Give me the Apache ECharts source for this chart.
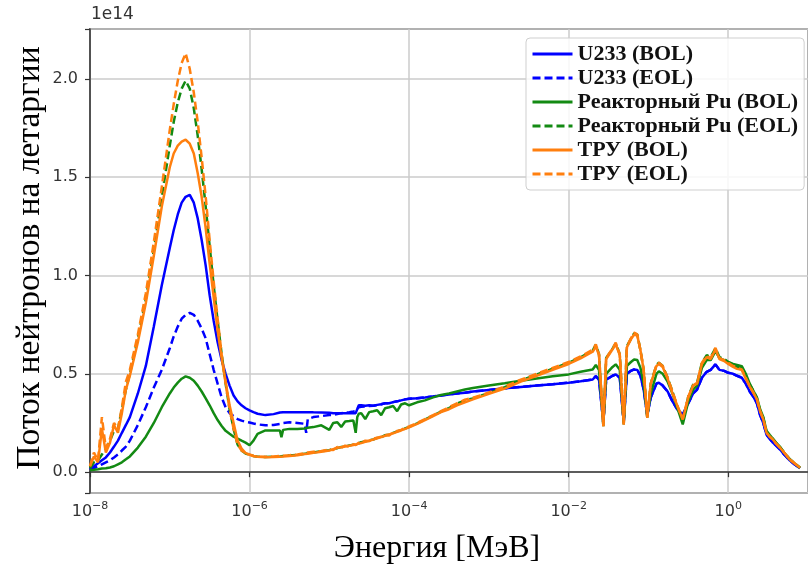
<!DOCTYPE html>
<html><head><meta charset="utf-8">
<script src="https://cdn.jsdelivr.net/npm/echarts@6/dist/echarts.min.js"></script>
<style>html,body{margin:0;padding:0;background:#fff}#c{width:808px;height:569px}</style>
</head><body><div id="c"></div>
<script>
// Energy grid, MeV
const energy = [
 1.00e-8,1.12e-8,1.26e-8,1.41e-8,1.58e-8,1.78e-8,2.00e-8,2.24e-8,2.51e-8,2.82e-8,
 3.16e-8,3.98e-8,5.01e-8,6.31e-8,7.94e-8,1.00e-7,1.12e-7,1.26e-7,1.41e-7,1.58e-7,
 1.78e-7,2.00e-7,2.24e-7,2.51e-7,2.82e-7,3.16e-7,3.55e-7,3.98e-7,4.47e-7,5.01e-7,
 5.62e-7,6.31e-7,7.08e-7,7.94e-7,8.91e-7,1.00e-6,1.12e-6,1.26e-6,1.58e-6,2.00e-6,
 2.40e-6,2.51e-6,2.63e-6,3.16e-6,3.98e-6,4.90e-6,5.13e-6,5.37e-6,6.31e-6,7.94e-6,
 1.00e-5,1.12e-5,1.26e-5,1.41e-5,1.58e-5,1.78e-5,2.00e-5,2.14e-5,2.24e-5,2.34e-5,
 2.51e-5,2.82e-5,3.16e-5,3.55e-5,3.98e-5,4.47e-5,5.01e-5,5.62e-5,6.31e-5,7.08e-5,
 7.94e-5,8.91e-5,1.00e-4,1.26e-4,1.58e-4,2.00e-4,2.51e-4,3.16e-4,3.98e-4,5.01e-4,
 6.31e-4,1.00e-3,1.58e-3,2.51e-3,3.98e-3,6.31e-3,1.00e-2,1.41e-2,2.00e-2,2.19e-2,
 2.40e-2,2.72e-2,2.95e-2,3.55e-2,3.89e-2,4.37e-2,4.90e-2,5.37e-2,6.03e-2,6.61e-2,
 7.24e-2,7.94e-2,8.71e-2,9.66e-2,1.07e-1,1.26e-1,1.35e-1,1.51e-1,1.74e-1,2.00e-1,
 2.29e-1,2.69e-1,3.16e-1,3.63e-1,4.07e-1,4.68e-1,5.37e-1,6.03e-1,6.92e-1,7.76e-1,
 8.91e-1,1.00,1.15,1.29,1.48,1.66,1.86,2.09,2.29,2.51,
 2.75,3.02,3.31,3.63,3.98,4.47,5.01,5.89,6.76,7.94
];
// Flux per lethargy, units of 1e14
const u233Bol = [
 0.015,0.03,0.045,0.06,0.075,0.10,0.13,0.16,0.20,0.24,
 0.28,0.40,0.54,0.74,0.95,1.14,1.23,1.31,1.37,1.40,
 1.41,1.37,1.29,1.18,1.05,0.90,0.77,0.66,0.57,0.50,
 0.44,0.39,0.36,0.34,0.325,0.314,0.305,0.297,0.29,0.295,
 0.303,0.305,0.305,0.305,0.305,0.305,0.305,0.305,0.304,0.303,
 0.302,0.30,0.30,0.30,0.30,0.30,0.30,0.30,0.30,0.34,
 0.34,0.338,0.34,0.338,0.342,0.345,0.35,0.35,0.356,0.36,
 0.365,0.37,0.373,0.376,0.38,0.385,0.39,0.395,0.40,0.404,
 0.41,0.418,0.426,0.433,0.44,0.447,0.455,0.462,0.471,0.488,
 0.47,0.25,0.47,0.49,0.497,0.48,0.255,0.50,0.515,0.522,
 0.52,0.49,0.42,0.29,0.38,0.45,0.455,0.44,0.41,0.36,
 0.32,0.293,0.35,0.40,0.42,0.48,0.51,0.52,0.548,0.52,
 0.515,0.505,0.50,0.49,0.48,0.45,0.41,0.38,0.35,0.29,
 0.25,0.19,0.17,0.15,0.135,0.115,0.09,0.06,0.04,0.02
];
const u233Eol = [
 0.01,0.02,0.03,0.04,0.05,0.06,0.075,0.09,0.11,0.13,
 0.16,0.24,0.33,0.43,0.52,0.63,0.69,0.74,0.78,0.80,
 0.81,0.80,0.77,0.73,0.68,0.60,0.52,0.45,0.38,0.33,
 0.30,0.285,0.27,0.262,0.256,0.252,0.247,0.243,0.238,0.24,
 0.245,0.248,0.25,0.254,0.25,0.246,0.20,0.27,0.28,0.285,
 0.29,0.292,0.295,0.30,0.302,0.305,0.308,0.31,0.31,0.33,
 0.332,0.334,0.336,0.338,0.34,0.345,0.35,0.35,0.356,0.36,
 0.365,0.37,0.373,0.376,0.38,0.385,0.39,0.395,0.40,0.404,
 0.41,0.418,0.426,0.433,0.44,0.447,0.455,0.462,0.471,0.488,
 0.47,0.25,0.47,0.49,0.497,0.48,0.255,0.50,0.515,0.522,
 0.52,0.49,0.42,0.29,0.38,0.45,0.455,0.44,0.41,0.36,
 0.32,0.293,0.35,0.40,0.42,0.48,0.51,0.52,0.548,0.52,
 0.515,0.505,0.50,0.49,0.48,0.45,0.41,0.38,0.35,0.29,
 0.25,0.19,0.17,0.15,0.135,0.115,0.09,0.06,0.04,0.02
];
const puBol = [
 0.01,0.012,0.015,0.018,0.02,0.024,0.03,0.04,0.05,0.065,
 0.08,0.125,0.18,0.25,0.33,0.40,0.43,0.455,0.475,0.487,
 0.48,0.465,0.44,0.41,0.375,0.34,0.30,0.265,0.235,0.21,
 0.195,0.18,0.17,0.16,0.15,0.137,0.16,0.195,0.212,0.212,
 0.212,0.178,0.215,0.22,0.22,0.222,0.225,0.226,0.229,0.238,
 0.215,0.25,0.254,0.23,0.258,0.26,0.263,0.20,0.28,0.297,
 0.30,0.27,0.305,0.31,0.315,0.29,0.325,0.33,0.336,0.31,
 0.344,0.35,0.34,0.355,0.365,0.38,0.392,0.40,0.41,0.42,
 0.428,0.44,0.452,0.465,0.476,0.487,0.497,0.51,0.522,0.545,
 0.52,0.245,0.50,0.535,0.548,0.52,0.25,0.54,0.56,0.573,
 0.57,0.53,0.45,0.285,0.40,0.50,0.513,0.50,0.46,0.40,
 0.33,0.243,0.36,0.42,0.44,0.53,0.57,0.57,0.615,0.58,
 0.57,0.56,0.55,0.545,0.539,0.50,0.45,0.41,0.38,0.32,
 0.28,0.21,0.19,0.17,0.15,0.128,0.10,0.067,0.046,0.022
];
const puEol = [
 0.02,0.05,0.06,0.09,0.12,0.16,0.21,0.22,0.32,0.42,
 0.50,0.68,0.88,1.13,1.40,1.66,1.78,1.88,1.95,1.99,
 1.95,1.85,1.71,1.54,1.35,1.15,0.95,0.77,0.60,0.45,
 0.32,0.22,0.14,0.11,0.095,0.088,0.082,0.078,0.077,0.078,
 0.08,0.079,0.082,0.085,0.088,0.093,0.095,0.097,0.10,0.106,
 0.112,0.118,0.122,0.128,0.13,0.136,0.14,0.142,0.144,0.147,
 0.152,0.156,0.162,0.166,0.174,0.178,0.188,0.19,0.20,0.207,
 0.214,0.222,0.23,0.248,0.268,0.288,0.308,0.326,0.348,0.365,
 0.375,0.402,0.432,0.466,0.496,0.526,0.556,0.584,0.618,0.648,
 0.60,0.234,0.58,0.628,0.655,0.60,0.243,0.64,0.678,0.705,
 0.70,0.62,0.52,0.277,0.45,0.545,0.556,0.54,0.48,0.41,
 0.335,0.26,0.385,0.445,0.455,0.556,0.595,0.585,0.63,0.585,
 0.575,0.56,0.545,0.535,0.53,0.49,0.445,0.41,0.375,0.315,
 0.275,0.205,0.185,0.17,0.148,0.127,0.10,0.066,0.046,0.022
];
const truBol = [
 0.03,0.08,0.05,0.22,0.10,0.15,0.24,0.20,0.30,0.42,
 0.49,0.66,0.86,1.10,1.35,1.55,1.62,1.66,1.68,1.69,
 1.67,1.62,1.52,1.40,1.24,1.06,0.89,0.72,0.58,0.46,
 0.34,0.25,0.16,0.12,0.097,0.09,0.082,0.078,0.076,0.077,
 0.078,0.078,0.079,0.082,0.086,0.092,0.093,0.094,0.098,0.104,
 0.11,0.117,0.124,0.127,0.13,0.134,0.138,0.141,0.143,0.145,
 0.148,0.154,0.16,0.166,0.172,0.178,0.185,0.192,0.198,0.205,
 0.212,0.22,0.228,0.245,0.265,0.285,0.305,0.32,0.34,0.355,
 0.37,0.398,0.425,0.46,0.49,0.52,0.55,0.578,0.612,0.64,
 0.595,0.234,0.575,0.625,0.65,0.595,0.243,0.635,0.675,0.70,
 0.695,0.62,0.52,0.277,0.45,0.54,0.55,0.535,0.475,0.40,
 0.34,0.268,0.38,0.44,0.45,0.55,0.585,0.575,0.625,0.575,
 0.565,0.55,0.535,0.525,0.52,0.475,0.435,0.40,0.37,0.31,
 0.268,0.20,0.18,0.166,0.145,0.124,0.10,0.065,0.045,0.022
];
const truEol = [
 0.03,0.10,0.06,0.28,0.12,0.17,0.25,0.22,0.33,0.46,
 0.52,0.70,0.91,1.17,1.45,1.74,1.87,1.99,2.08,2.13,
 2.05,1.93,1.78,1.60,1.40,1.18,0.97,0.78,0.60,0.45,
 0.32,0.22,0.14,0.11,0.095,0.088,0.082,0.078,0.078,0.08,
 0.082,0.08,0.084,0.086,0.09,0.096,0.092,0.10,0.104,0.108,
 0.115,0.112,0.128,0.124,0.135,0.13,0.142,0.138,0.146,0.15,
 0.15,0.16,0.158,0.17,0.175,0.18,0.19,0.186,0.202,0.21,
 0.215,0.226,0.232,0.25,0.27,0.29,0.31,0.33,0.35,0.368,
 0.378,0.405,0.435,0.47,0.50,0.53,0.56,0.588,0.622,0.65,
 0.60,0.234,0.58,0.63,0.658,0.60,0.243,0.64,0.68,0.709,
 0.70,0.62,0.52,0.277,0.45,0.545,0.556,0.54,0.48,0.41,
 0.34,0.27,0.385,0.44,0.455,0.556,0.59,0.58,0.632,0.58,
 0.57,0.556,0.54,0.53,0.522,0.48,0.437,0.40,0.37,0.31,
 0.268,0.20,0.18,0.166,0.145,0.124,0.10,0.065,0.045,0.022
];
const seriesNames = ['U233 (BOL)','U233 (EOL)','Реакторный Pu (BOL)','Реакторный Pu (EOL)','ТРУ (BOL)','ТРУ (EOL)'];
const yTickStep = 0.5;
const xTitle = 'Энергия [МэВ]';
const yTitle = 'Поток нейтронов на летаргии';
const offsetText = '1e14';

const defs = [
  {data: u233Bol, color: '#0000ff', dash: false},
  {data: u233Eol, color: '#0000ff', dash: true},
  {data: puBol, color: '#138a13', dash: false},
  {data: puEol, color: '#138a13', dash: true},
  {data: truBol, color: '#ff7f0e', dash: false},
  {data: truEol, color: '#ff7f0e', dash: true}
];

const chart = echarts.init(document.getElementById('c'), null, {renderer: 'canvas'});
const tickColor = '#333';
chart.setOption({
  animation: false,
  backgroundColor: '#fff',
  grid: {left: 90, right: -7, top: 29, bottom: 76, show: true, borderColor: '#333', borderWidth: 1.5, backgroundColor: 'transparent'},
  xAxis: {
    type: 'log', logBase: 10, min: 1e-8, max: 10, interval: 2,
    axisLine: {lineStyle: {color: '#333', width: 1.5}},
    axisTick: {show: true, length: 5, lineStyle: {color: '#333', width: 1.2}},
    minorTick: {show: false},
    splitLine: {show: true, lineStyle: {color: '#cbcbcb', width: 1.5}},
    axisLabel: {
      margin: 8, showMaxLabel: false, color: tickColor,
      formatter: function (v) {
        const p = Math.log10(v); const r = Math.round(p);
        if (Math.abs(p - r) > 1e-6 || r > 0) return '';
        return '{b|10}{e|' + (r < 0 ? '\u2212' + (-r) : String(r)) + '}';
      },
      rich: {
        b: {fontSize: 16, fontFamily: 'DejaVu Sans', color: tickColor, lineHeight: 22},
        e: {fontSize: 11, fontFamily: 'DejaVu Sans', color: tickColor, verticalAlign: 'top', lineHeight: 12}
      }
    }
  },
  yAxis: {
    type: 'value', min: -0.106, max: 2.253, minInterval: yTickStep, maxInterval: yTickStep,
    axisLine: {show: true, lineStyle: {color: '#333', width: 1.5}},
    axisTick: {show: true, length: 5, lineStyle: {color: '#333', width: 1.2}},
    splitLine: {show: true, lineStyle: {color: '#cbcbcb', width: 1.5}},
    axisLabel: {
      margin: 12, fontSize: 16, fontFamily: 'DejaVu Sans', color: tickColor,
      formatter: function (v) {
        const k = v / yTickStep;
        return Math.abs(k - Math.round(k)) < 1e-6 ? v.toFixed(1) : '';
      }
    }
  },
  legend: {
    orient: 'vertical', left: 526, top: 38, itemWidth: 40, itemHeight: 12, itemGap: 2,
    padding: [5, 6, 5, 5],
    backgroundColor: 'rgba(255,255,255,0.85)', borderColor: '#cfcfcf', borderWidth: 1, borderRadius: 4,
    itemStyle: {opacity: 0, color: 'rgba(0,0,0,0)', borderColor: 'rgba(0,0,0,0)', borderWidth: 0},
    lineStyle: {width: 3},
    textStyle: {fontFamily: 'Liberation Serif', fontWeight: 'bold', fontSize: 22, color: '#111', lineHeight: 22},
    data: seriesNames
  },
  graphic: [
    {type: 'text', x: 91, y: 6, style: {text: offsetText, fontSize: 17, fontFamily: 'DejaVu Sans', fill: tickColor}},
    {type: 'text', x: 437, y: 549, style: {text: xTitle, fontSize: 32, fontFamily: 'Liberation Serif', fill: '#000', align: 'center', verticalAlign: 'middle'}},
    {type: 'text', x: 30, y: 258, rotation: Math.PI / 2, style: {text: yTitle, fontSize: 33.5, fontFamily: 'Liberation Serif', fill: '#000', align: 'center', verticalAlign: 'middle'}}
  ],
  series: defs.map(function (d, k) {
    return {
      name: seriesNames[k], type: 'line', showSymbol: false, symbol: 'none',
      data: energy.map(function (e, i) { return [e, d.data[i]]; }),
      lineStyle: {color: d.color, width: 2.5, type: d.dash ? [8, 4] : 'solid'},
      itemStyle: {color: d.color},
      z: 2 + k
    };
  })
});
</script>
</body></html>
